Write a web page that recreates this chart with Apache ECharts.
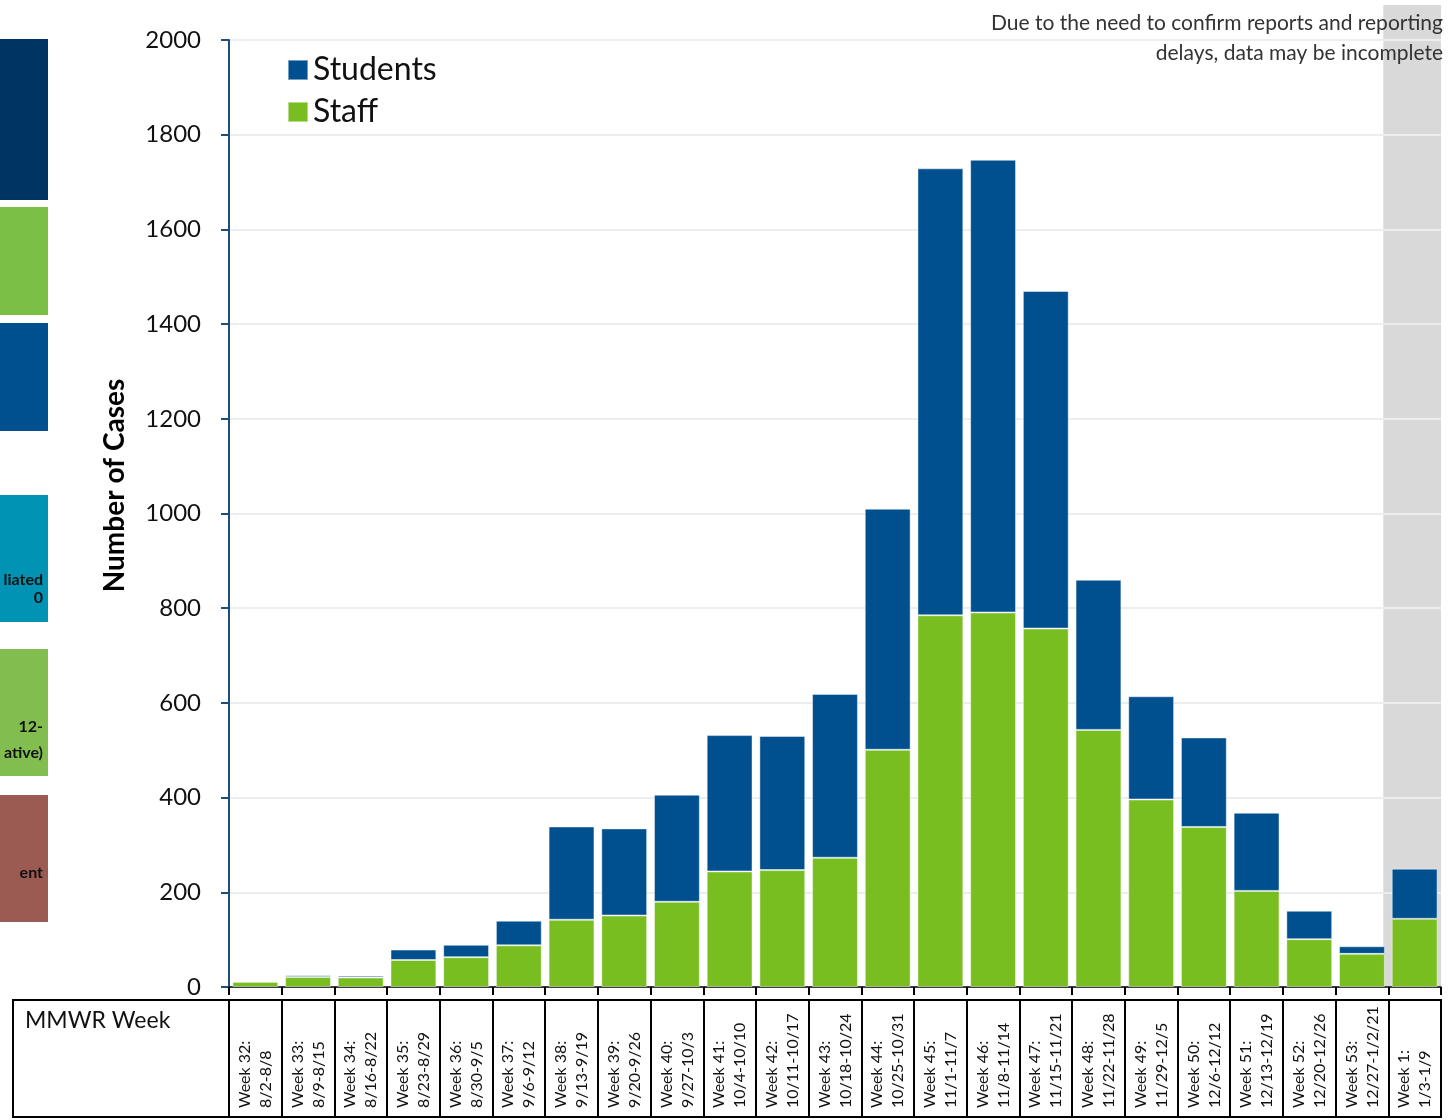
<!DOCTYPE html>
<html>
	<head>
		<meta charset="utf-8">
		<title>Cases by MMWR Week</title>
		<style>
			html, body { margin: 0; padding: 0; background: #fff; }
		</style>
	</head>
	<body>
		<!-- chart area -->
		<div id="container" style="width: 1448px;height:1120px;"></div>
	</body>
	<script src="https://cdn.jsdelivr.net/npm/echarts@6/dist/echarts.min.js"></script>
	<script type="text/javascript">
		'use strict'
		// week labels (two lines, drawn rotated in the table)
		var categories = [
			'Week 32:\n8/2-8/8', 'Week 33:\n8/9-8/15', 'Week 34:\n8/16-8/22', 'Week 35:\n8/23-8/29',
			'Week 36:\n8/30-9/5', 'Week 37:\n9/6-9/12', 'Week 38:\n9/13-9/19', 'Week 39:\n9/20-9/26',
			'Week 40:\n9/27-10/3', 'Week 41:\n10/4-10/10', 'Week 42:\n10/11-10/17', 'Week 43:\n10/18-10/24',
			'Week 44:\n10/25-10/31', 'Week 45:\n11/1-11/7', 'Week 46:\n11/8-11/14', 'Week 47:\n11/15-11/21',
			'Week 48:\n11/22-11/28', 'Week 49:\n11/29-12/5', 'Week 50:\n12/6-12/12', 'Week 51:\n12/13-12/19',
			'Week 52:\n12/20-12/26', 'Week 53:\n12/27-1/2/21', 'Week 1:\n1/3-1/9'
		];
		// staff cases (bottom of stack)
		var staff = [11, 21, 20, 57, 63, 88, 142, 151, 180, 244, 247, 273, 501, 785, 791, 757, 543, 396, 338, 203, 101, 70, 144];
		// student cases (top of stack)
		var students = [0, 4, 4, 22, 26, 52, 197, 184, 226, 288, 283, 346, 509, 944, 956, 713, 317, 218, 189, 165, 60, 16, 106];
		// y axis
		var yMin = 0, yMax = 2000, yStep = 200;

		var mainFont = 'Lato';
		var blue = '#00508F';
		var green = '#78BE20';
		var axisBlue = '#1F4E79';

		// left edge: slices of the neighbouring panel
		var sidePanels = [
			{ top: 39, h: 161, color: '#003462', lines: [] },
			{ top: 207, h: 108, color: '#7BBF45', lines: [] },
			{ top: 323, h: 108, color: '#00508F', lines: [] },
			{ top: 495, h: 127, color: '#0093B3', lines: [['liated', 580], ['0', 598]] },
			{ top: 649, h: 127, color: '#82BE4F', lines: [['12-', 727], ['ative)', 753]] },
			{ top: 795, h: 127, color: '#9B5B52', lines: [['ent', 873]] }
		];

		var graphics = [];
		sidePanels.forEach(function (p, i) {
			graphics.push({
				type: 'rect', id: 'panel' + i,
				shape: { x: 0, y: p.top, width: 48, height: p.h },
				style: { fill: p.color }
			});
			p.lines.forEach(function (ln, j) {
				graphics.push({
					type: 'text', id: 'panelText' + i + '_' + j,
					x: 43, y: ln[1],
					style: {
						text: ln[0], fill: '#111', font: 'bold 16px ' + mainFont,
						textAlign: 'right', textVerticalAlign: 'middle'
					}
				});
			});
		});
		// table frame + first cell
		graphics.push({
			type: 'rect', id: 'tableFrame',
			shape: { x: 13, y: 1000, width: 1428, height: 117 },
			style: { fill: 'none', stroke: '#000', lineWidth: 2 }
		});
		graphics.push({
			type: 'text', id: 'mmwr',
			x: 25, y: 1009,
			style: { text: 'MMWR Week', fill: '#111', font: '23px ' + mainFont }
		});
		// note at top right
		graphics.push({
			type: 'text', id: 'note',
			x: 1443, y: 8, z: 10,
			style: {
				text: 'Due to the need to confirm reports and reporting\ndelays, data may be incomplete',
				fill: '#333', font: '21px ' + mainFont, textAlign: 'right', lineHeight: 30
			}
		});

		var myCharts = echarts.init(document.getElementById('container'));
		var option = {
			animation: false,
			grid: { left: 229, right: 7, top: 40, bottom: 133 },
			legend: {
				data: ['Students', 'Staff'],
				orient: 'vertical',
				left: 287, top: 54,
				padding: 0,
				icon: 'rect',
				itemWidth: 20, itemHeight: 20, itemGap: 10,
				textStyle: { fontFamily: mainFont, fontSize: 32, color: '#111' }
			},
			xAxis: [{
				type: 'category',
				data: categories,
				axisLine: { lineStyle: { color: '#000', width: 1.5 } },
				axisTick: { show: true, length: 8, interval: 0, lineStyle: { color: '#000', width: 2 } },
				axisLabel: {
					interval: 0, rotate: 90, margin: 121,
					align: 'left', verticalAlign: 'middle',
					fontFamily: mainFont, fontSize: 16, lineHeight: 21, color: '#111'
				}
			}, {
				// table cell dividers
				type: 'category',
				data: categories,
				position: 'bottom',
				offset: 13,
				axisLine: { lineStyle: { color: '#000', width: 2 } },
				axisTick: { show: true, length: 117, interval: 0, lineStyle: { color: '#000', width: 2 } },
				axisLabel: { show: false }
			}],
			yAxis: {
				type: 'value',
				min: yMin, max: yMax, interval: yStep,
				name: 'Number of Cases',
				nameLocation: 'middle',
				nameGap: 100,
				nameTextStyle: {
					fontFamily: mainFont, fontSize: 28, fontWeight: 'bold', color: '#000',
					padding: [0, 0, 0, 56]
				},
				axisLine: { show: true, lineStyle: { color: axisBlue, width: 2 } },
				axisTick: { show: true, length: 8, lineStyle: { color: axisBlue, width: 2 } },
				axisLabel: {
					margin: 28, fontFamily: mainFont, fontSize: 24, color: '#111',
					formatter: function (v) { return String(v); }
				},
				splitLine: { lineStyle: { color: '#EDEDED', width: 2 } }
			},
			series: [{
				name: 'Staff',
				type: 'bar',
				stack: 'cases',
				barCategoryGap: '13%',
				itemStyle: { color: green, borderColor: 'rgba(255,255,255,0.45)', borderWidth: 1 },
				data: staff
			}, {
				name: 'Students',
				type: 'bar',
				stack: 'cases',
				barCategoryGap: '13%',
				itemStyle: { color: blue, borderColor: 'rgba(255,255,255,0.45)', borderWidth: 1 },
				data: students
			}],
			graphic: { elements: graphics }
		};
		myCharts.setOption(option);

		// grey band behind the last (incomplete) week
		var last = categories.length - 1;
		var xLast = myCharts.convertToPixel({ xAxisIndex: 0 }, categories[last]);
		var xPrev = myCharts.convertToPixel({ xAxisIndex: 0 }, categories[last - 1]);
		var band = xLast - xPrev;
		var yZero = myCharts.convertToPixel({ yAxisIndex: 0 }, 0);
		graphics.unshift({
			type: 'rect', id: 'pendingBand', z: -10,
			shape: { x: xLast - band / 2 - 5, y: 5, width: band + 5, height: yZero - 5 },
			style: { fill: '#D9D9D9' }
		});
		myCharts.setOption({ graphic: { elements: graphics } });
	</script>
</html>
